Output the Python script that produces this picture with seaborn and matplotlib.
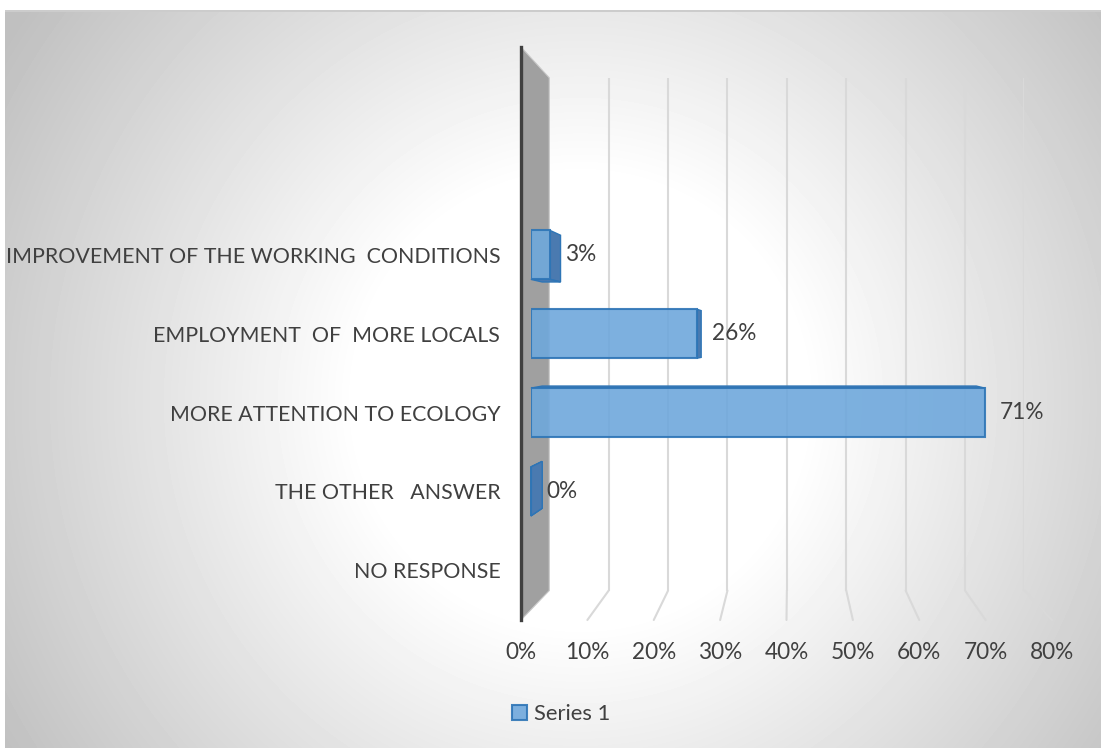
import numpy as np
import pandas as pd
import seaborn as sns
import matplotlib
matplotlib.use("Agg")
from matplotlib import pyplot as plt
from matplotlib.patches import Polygon, ConnectionPatch

sns.set_style("white")
plt.rcParams["font.family"] = ["Lato", "DejaVu Sans"]

# ---- data -----------------------------------------------------------------
answers = ["IMPROVEMENT OF THE WORKING  CONDITIONS",
           "EMPLOYMENT  OF  MORE LOCALS",
           "MORE ATTENTION TO ECOLOGY",
           "THE OTHER   ANSWER",
           "NO RESPONSE"]
shares  = [3, 26, 71, 0, np.nan]          # percent, NO RESPONSE has no bar
ticks   = list(range(0, 81, 10))
series  = "Series 1"

# ---- layout (image pixels, origin top-left) --------------------------------
W, H     = 1101, 748
FRONT    = (521, 47, 1052, 620)          # x(0%), top, x(80%), bottom of front plane
CX, CY   = 790, 340                      # vanishing centre of the fake 3d box
SHRINK   = 0.105                         # scale loss from front (d=0) to back (d=1)
BAR_D    = (0.35, 0.75)                  # depth of bar front / back faces
TXT      = "#404040"
FACE     = "#6FA8DC"
EDGE     = "#2E75B6"
SIDE     = "#4A7AB0"

def plane(d):
    s  = 1 - SHRINK * d
    x0 = CX + s * (FRONT[0] - CX); x1 = CX + s * (FRONT[2] - CX)
    y0 = CY + s * (FRONT[1] - CY); y1 = CY + s * (FRONT[3] - CY)
    return [x0 / W, 1 - y1 / H, (x1 - x0) / W, (y1 - y0) / H]

fig = plt.figure(figsize=(W / 100, H / 100), dpi=100)

# ---- radial grey background ------------------------------------------------
bg = fig.add_axes([0, 0, 1, 1], zorder=-1)
yy, xx = np.mgrid[0:H, 0:W]
r   = np.hypot(xx - 580, yy - 400) / 680
t   = np.clip((r - 0.33) / 0.67, 0, 1)
img = 1 - 0.25 * t
img[:10, :] = 1; img[:, :5] = 1
img[10:12, 5:] = 0.80
bg.imshow(img, cmap="gray", vmin=0, vmax=1, aspect="auto", interpolation="bilinear")
bg.set_axis_off()

# ---- back plane with the value gridlines -----------------------------------
ax_back = fig.add_axes(plane(1), zorder=1)
ax_back.set_xlim(0, 80); ax_back.set_ylim(0, 1)
for v in ticks[1:]:
    ax_back.axvline(v, color="#D9D9D9", lw=1.5)
ax_back.set_axis_off()

# ---- front plane: dark edge + value tick labels ----------------------------
ax_front = fig.add_axes(plane(0), zorder=2)
ax_front.set_facecolor("none")
ax_front.set_xlim(0, 80); ax_front.set_ylim(0, 1)
ax_front.set_xticks(ticks, [f"{v}%" for v in ticks])
ax_front.set_yticks([])
ax_front.tick_params(axis="x", length=0, pad=16, labelsize=16.3, labelcolor=TXT)
for side in ["top", "right", "bottom"]:
    ax_front.spines[side].set_visible(False)
ax_front.spines["left"].set_color(TXT)
ax_front.spines["left"].set_linewidth(2.4)

# floor lines from back to front
for v in ticks[1:]:
    fig.add_artist(ConnectionPatch((v, 0), (v, 0),
                                   coordsA=ax_back.get_xaxis_transform(),
                                   coordsB=ax_front.get_xaxis_transform(),
                                   color="#D9D9D9", lw=1.5, zorder=1.2))

# side wall
to_fig = fig.transFigure.inverted()
wall = np.vstack([ax_front.transAxes.transform([(0, 1), (0, 0)]),
                  ax_back.transAxes.transform([(0, 0), (0, 1)])])
fig.add_artist(Polygon(to_fig.transform(wall), closed=True, facecolor="#A0A0A0",
                       edgecolor="#C8C8C8", lw=0.8, transform=fig.transFigure, zorder=1.5))

# ---- bars -------------------------------------------------------------------
df = pd.DataFrame({"answer": answers, "share": shares}).dropna()
axb = fig.add_axes(plane(BAR_D[0]), zorder=3)
axb.set_facecolor("none")
sns.barplot(data=df, x="share", y="answer", order=answers, orient="h",
            width=0.62, color=FACE, edgecolor=EDGE, linewidth=1.5,
            alpha=0.9, saturation=1, label=series, ax=axb)
axb.set_xlim(0, 80)
axb.set_ylim(len(answers) - 0.5, -2.5)
axb.set_xlabel(""); axb.set_ylabel("")
axb.set_xticks([])
axb.tick_params(axis="y", length=0, pad=22, labelsize=15.4, labelcolor=TXT)
sns.despine(ax=axb, left=True, bottom=True)
axb.bar_label(axb.containers[0], fmt="{:.0f}%", padding=11, fontsize=16.3, color=TXT)

# visible depth faces of each bar, projected towards the vanishing centre
k = (1 - SHRINK * BAR_D[1]) / (1 - SHRINK * BAR_D[0])
c = np.array([CX, H - CY])
for bar in axb.containers[0]:
    x0, y0 = bar.get_x(), bar.get_y()
    x1, y1 = x0 + bar.get_width(), y0 + bar.get_height()
    f = axb.transData.transform([(x0, y0), (x1, y0), (x1, y1), (x0, y1)])
    b = c + k * (f - c)
    for i in range(4):
        j = (i + 1) % 4
        q = np.array([f[i], f[j], b[j], b[i]])
        # keep a face only if its back edge sits outside the front rectangle
        fmid, bmid = (f[i] + f[j]) / 2, (b[i] + b[j]) / 2
        ctr = f.mean(axis=0)
        out = np.dot(bmid - fmid, fmid - ctr) > 0 or bar.get_width() == 0
        if not out:
            continue
        fig.add_artist(Polygon(to_fig.transform(q), closed=True, facecolor=SIDE,
                               edgecolor=EDGE, lw=1, transform=fig.transFigure, zorder=2.5))

# ---- legend -----------------------------------------------------------------
handles, labels = axb.get_legend_handles_labels()
if axb.get_legend() is not None:
    axb.get_legend().remove()
fig.legend(handles, labels, loc="center", bbox_to_anchor=(561 / W, 1 - 714 / H),
           frameon=False, fontsize=15.8, labelcolor=TXT, handlelength=0.7,
           handleheight=0.7, handletextpad=0.3)

fig.savefig("out.png", dpi=100)
